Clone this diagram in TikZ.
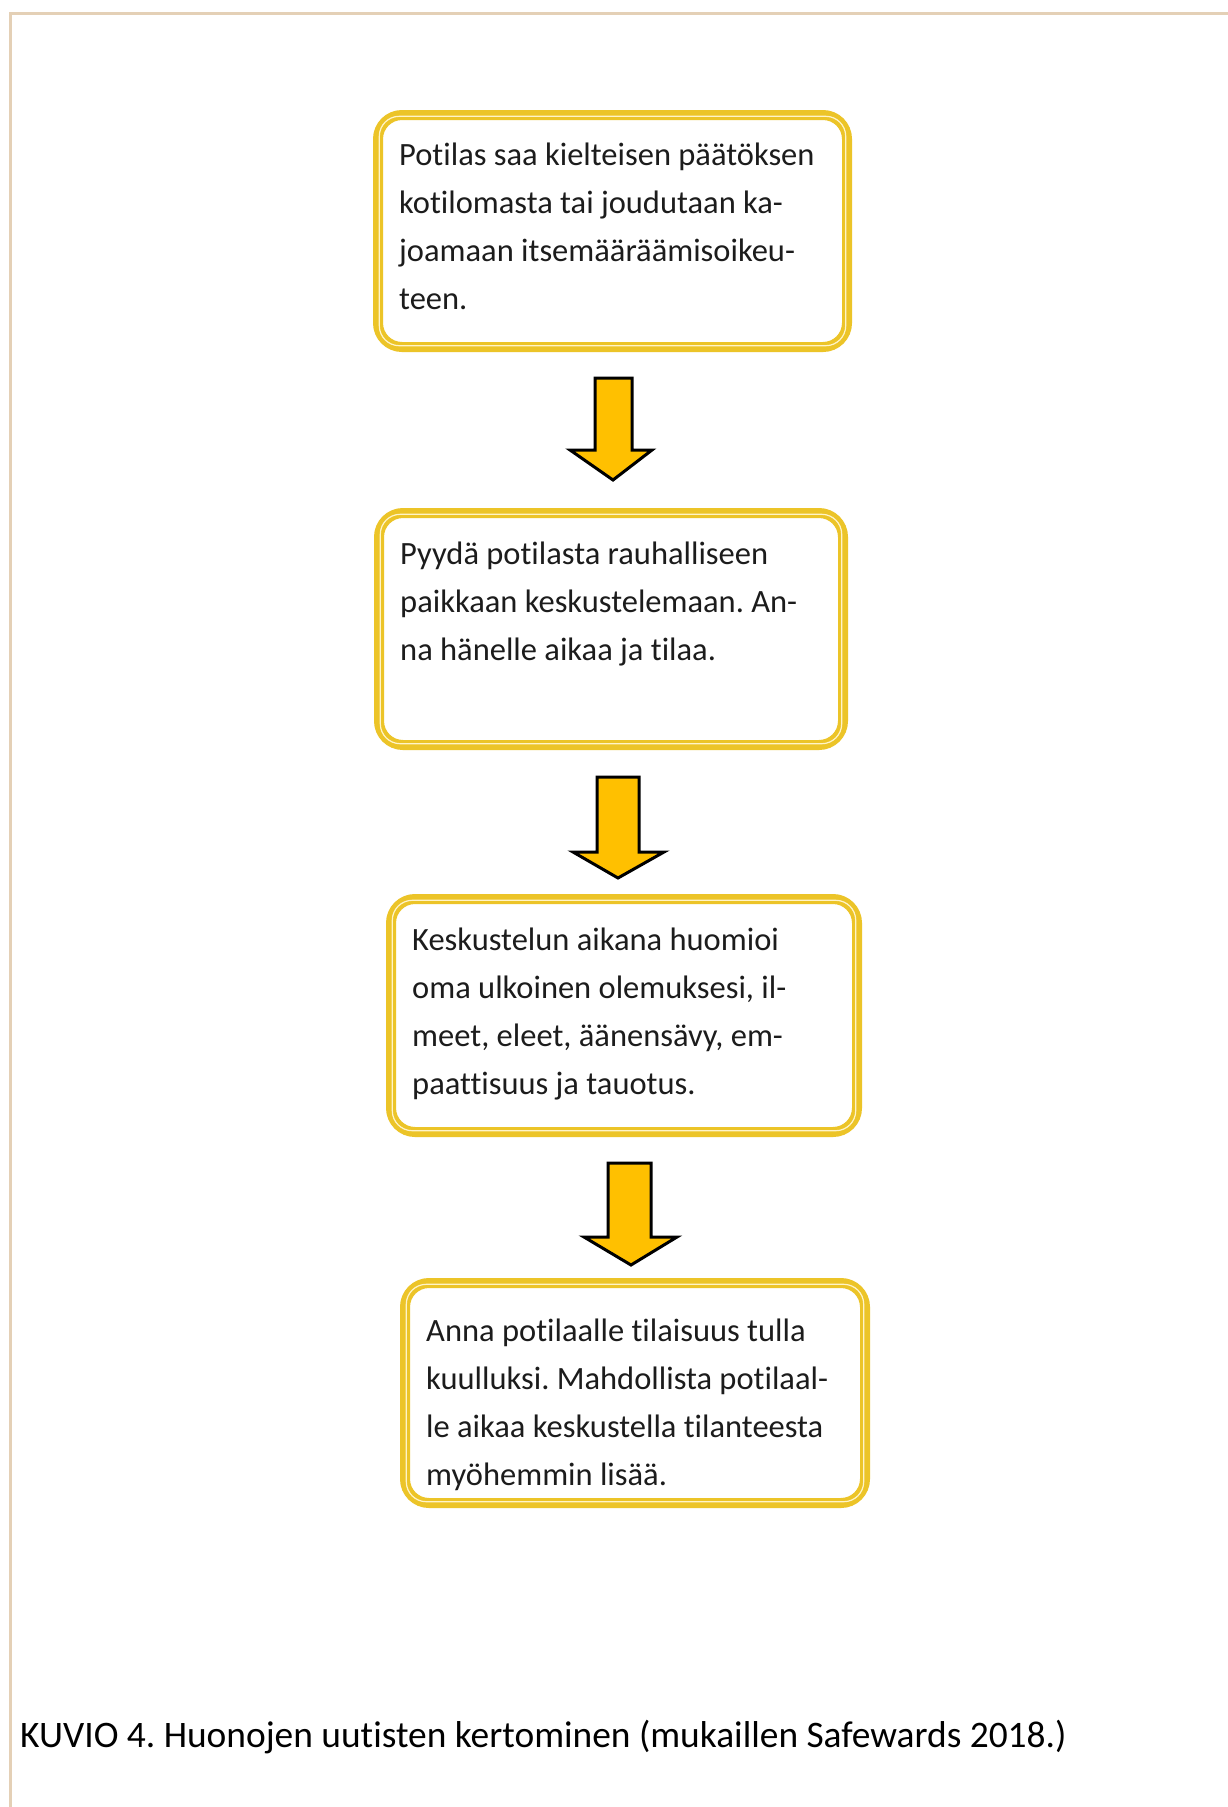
\documentclass[tikz,border=0pt]{standalone}
\usepackage{fontspec}
\setmainfont[Ligatures=NoCommon]{Carlito}
\frenchspacing
\definecolor{gold}{RGB}{236,196,40}
\definecolor{goldlight}{RGB}{255,244,200}
\definecolor{arrowfill}{RGB}{255,192,0}
\definecolor{frameline}{RGB}{228,208,182}
\definecolor{txt}{RGB}{28,28,28}
\tikzset{
  flowbox/.style={draw=gold, line width=10pt, rounded corners=24pt, fill=white, inner sep=0pt},
  flowinner/.style={draw=goldlight, line width=1.2pt, rounded corners=20pt},
  flowtext/.style={anchor=base west, inner sep=0pt, text=txt, font=\fontsize{32.5}{48}\selectfont},
  blockarrow/.style={fill=arrowfill, draw=black, line width=3pt, line join=miter},
  captiontext/.style={anchor=base west, inner sep=0pt, text=black, font=\fontsize{37.4}{44}\selectfont},
}
\newcommand{\flowlines}[1]{\parbox[t]{520pt}{\fontsize{32.5}{48}\selectfont #1}}
\begin{document}
\begin{tikzpicture}[x=1pt,y=-1pt]
\path[use as bounding box, fill=white] (0,0) rectangle (1228,1807);
% page frame
\coordinate (fa) at (10,13);
\coordinate (fb) at (1228,13);
\coordinate (fc) at (10,1807);
\draw[frameline, line width=3pt] (fb) -- (fa) -- (fc);

% boxes (outer extents minus half stroke)
\node[flowbox, minimum width=469pt, minimum height=232pt] (b1) at (612.5,231) {};
\node[flowbox, minimum width=464pt, minimum height=232pt] (b2) at (611,629) {};
\node[flowbox, minimum width=466pt, minimum height=233pt] (b3) at (624,1015.5) {};
\node[flowbox, minimum width=460pt, minimum height=220pt] (b4) at (635,1393) {};
\foreach \b in {b1,b2,b3,b4}{
  \draw[flowinner] ([xshift=6.3pt,yshift=-6.3pt]\b.north west) rectangle ([xshift=-6.3pt,yshift=6.3pt]\b.south east);
}

% texts
\node[flowtext] (t1) at (399,165) {\flowlines{Potilas saa kielteisen päätöksen\\kotilomasta tai joudutaan ka-\\joamaan itsemääräämisoikeu-\\teen.}};
\node[flowtext] (t2) at (400,564) {\flowlines{Pyydä potilasta rauhalliseen\\paikkaan keskustelemaan. An-\\na hänelle aikaa ja tilaa.}};
\node[flowtext] (t3) at (412,950) {\flowlines{Keskustelun aikana huomioi\\oma ulkoinen olemuksesi, il-\\meet, eleet, äänensävy, em-\\paattisuus ja tauotus.}};
\node[flowtext] (t4) at (426,1341) {\flowlines{Anna potilaalle tilaisuus tulla\\kuulluksi. Mahdollista potilaal-\\le aikaa keskustella tilanteesta\\myöhemmin lisää.}};

% block arrows
\draw[blockarrow] (595,378) -- (632,378) -- (632,450) -- (652,450) -- (613,480) -- (570,450) -- (595,450) -- cycle;
\draw[blockarrow] (597,777) -- (639,777) -- (639,852) -- (664,852) -- (618,878) -- (573,852) -- (597,852) -- cycle;
\draw[blockarrow] (608,1163) -- (651,1163) -- (651,1237) -- (677,1237) -- (631,1265) -- (584,1237) -- (608,1237) -- cycle;

% caption
\node[captiontext] (cap) at (20,1747) {KUVIO 4. Huonojen uutisten kertominen (mukaillen Safewards 2018.)};
\end{tikzpicture}
\end{document}
